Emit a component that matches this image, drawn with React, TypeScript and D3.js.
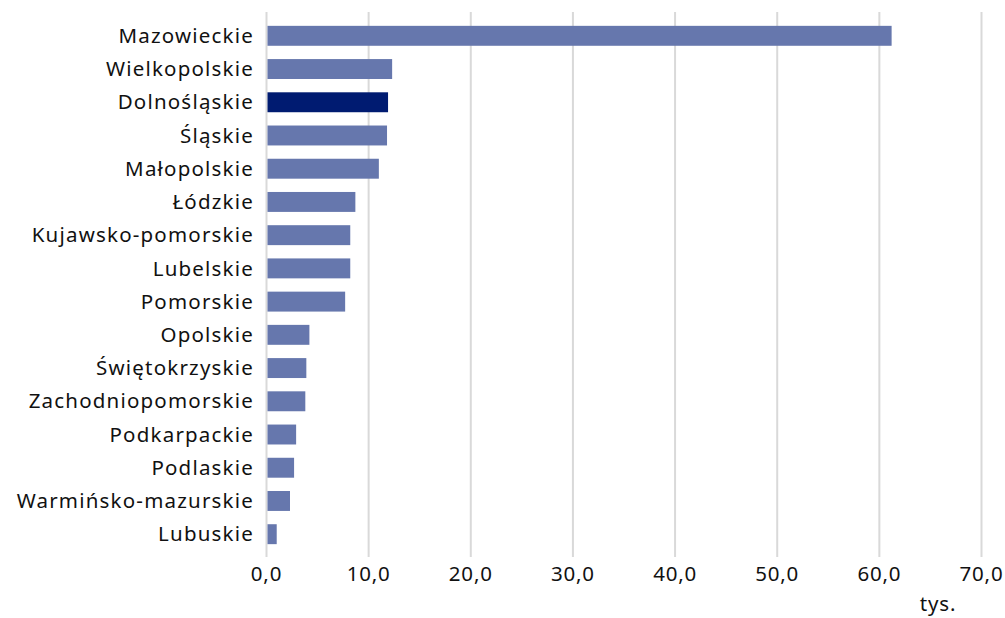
import React, { useEffect, useRef } from 'react';
import * as d3 from 'd3';

const regions = [
  'Mazowieckie', 'Wielkopolskie', 'Dolnośląskie', 'Śląskie', 'Małopolskie', 'Łódzkie',
  'Kujawsko-pomorskie', 'Lubelskie', 'Pomorskie', 'Opolskie', 'Świętokrzyskie',
  'Zachodniopomorskie', 'Podkarpackie', 'Podlaskie', 'Warmińsko-mazurskie', 'Lubuskie',
];
const values = [61.2, 12.3, 11.9, 11.8, 11.0, 8.7, 8.2, 8.2, 7.7, 4.2, 3.9, 3.8, 2.9, 2.7, 2.3, 1.0];
const highlighted = 'Dolnośląskie';
const xTicks = [0, 10, 20, 30, 40, 50, 60, 70];
const unitLabel = 'tys.';

export default function App() {
  const svgRef = useRef<SVGSVGElement>(null);
  const width = 1005;
  const height = 618;

  useEffect(() => {
    const svg = d3.select(svgRef.current);
    svg.selectAll('*').remove();

    const font = '"Noto Sans", sans-serif';
    const x = d3.scaleLinear().domain([0, 70]).range([266.5, 981.5]);
    const y = d3.scaleBand().domain(regions).range([19.2, 550.8]).paddingInner(0.4).paddingOuter(0.2);

    // gridlines
    svg.append('g')
      .selectAll('line')
      .data(xTicks)
      .join('line')
      .attr('x1', d => x(d))
      .attr('x2', d => x(d))
      .attr('y1', 12)
      .attr('y2', 557)
      .attr('stroke', '#d9d9d9')
      .attr('stroke-width', 2);

    // bars
    svg.append('g')
      .selectAll('rect')
      .data(regions)
      .join('rect')
      .attr('x', x(0) + 1)
      .attr('y', d => y(d)!)
      .attr('width', (d, i) => x(values[i]) - x(0) - 1)
      .attr('height', y.bandwidth())
      .attr('fill', d => (d === highlighted ? '#001b71' : '#6677ad'));

    // category labels
    svg.append('g')
      .selectAll('text')
      .data(regions)
      .join('text')
      .attr('x', 254)
      .attr('y', d => y(d)! + y.bandwidth() / 2)
      .attr('dy', '0.35em')
      .attr('text-anchor', 'end')
      .attr('font-family', font)
      .attr('font-size', 20.5)
      .attr('letter-spacing', 1.2)
      .attr('fill', '#111')
      .text(d => d);

    // x tick labels
    svg.append('g')
      .selectAll('text')
      .data(xTicks)
      .join('text')
      .attr('x', d => x(d))
      .attr('y', 581)
      .attr('text-anchor', 'middle')
      .attr('font-family', font)
      .attr('font-size', 20.5)
      .attr('letter-spacing', 0.8)
      .attr('fill', '#111')
      .text(d => d3.format('.1f')(d).replace('.', ','));

    svg.append('text')
      .attr('x', 938)
      .attr('y', 611)
      .attr('text-anchor', 'middle')
      .attr('font-family', font)
      .attr('font-size', 20.5)
      .attr('letter-spacing', 0.8)
      .attr('fill', '#111')
      .text(unitLabel);
  }, []);

  return (
    <svg
      ref={svgRef}
      width={width}
      height={height}
      style={{ position: 'absolute', left: 0, top: 0, background: '#fff' }}
    />
  );
}
